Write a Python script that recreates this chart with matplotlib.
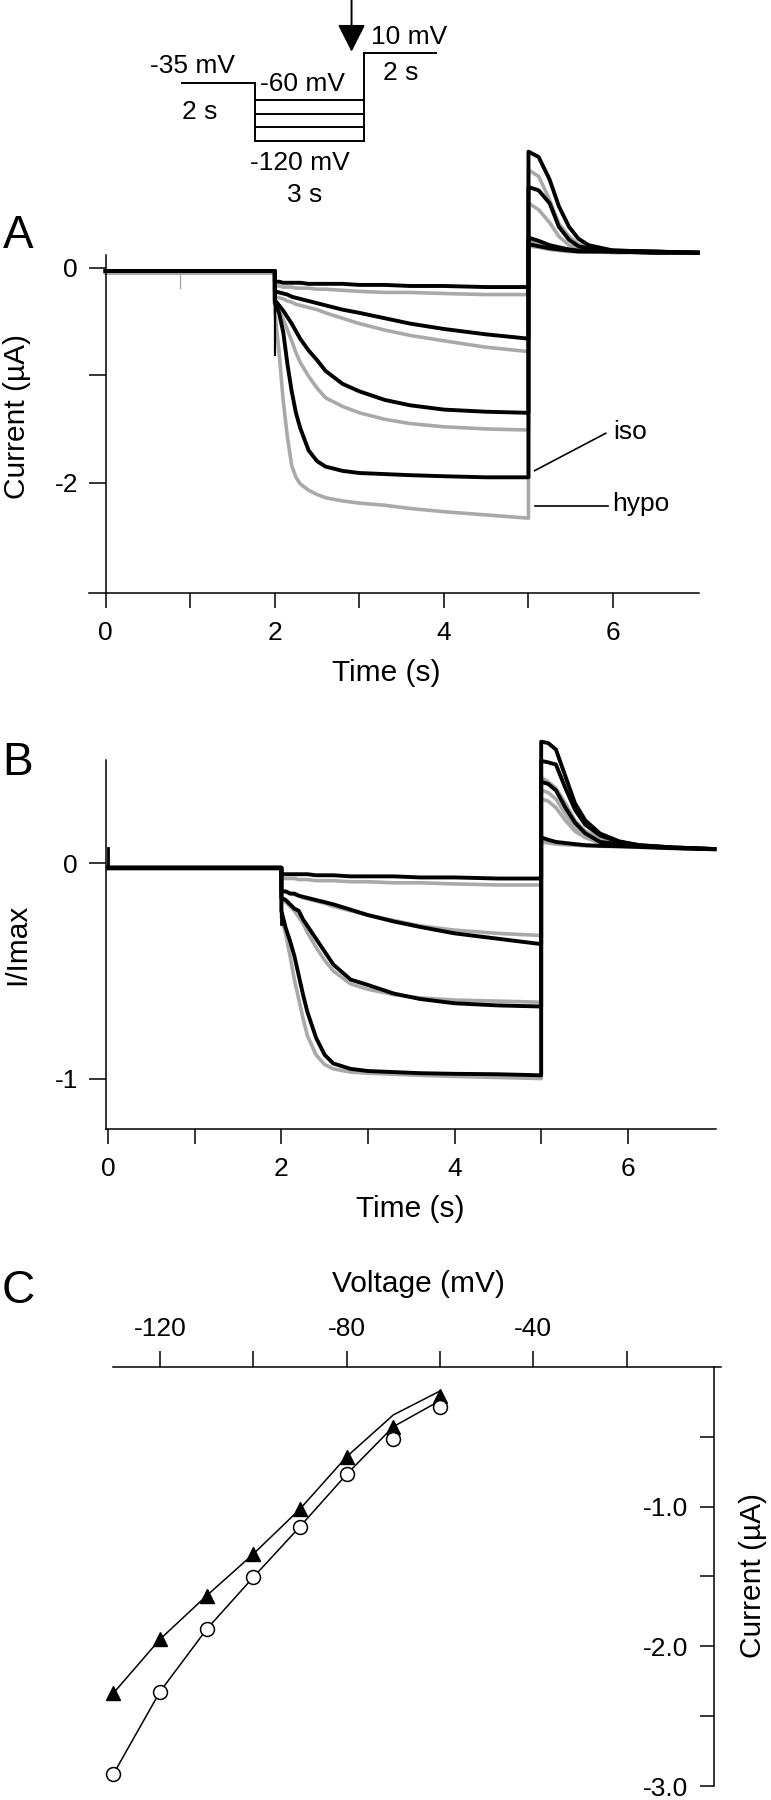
import matplotlib
matplotlib.use('Agg')
import matplotlib.pyplot as plt

plt.rcParams['font.family'] = ['Liberation Sans', 'DejaVu Sans']

W, H = 771, 1800
BLACK = '#000000'
GREY = '#a9a9a9'

# ── voltage protocol (inset) ─────────────────────────────────────
PROTO_T = [0, 2, 5, 7]          # s
HOLD_V = -35                    # mV
STEP_V = [-60, -80, -100, -120]
TAIL_V = 10
ARROW_T = 4.67

# ── panel A / B: current traces ──────────────────────────────────
T_HOLD = [0.0, 2.0]
T_STEP = [2.0, 2.05, 2.1, 2.15, 2.2, 2.25, 2.3, 2.4, 2.5, 2.6, 2.8, 3.0, 3.3, 3.6, 4.0, 4.5, 5.0]
T_TAIL_A = [5.0, 5.12, 5.25, 5.36, 5.48, 5.59, 5.71, 6.0, 6.5, 7.0]
T_TAIL_B = [5.0, 5.08, 5.17, 5.28, 5.39, 5.51, 5.68, 5.90, 6.13, 6.5, 7.0]

A_HOLD_ISO = -0.03
A_HOLD_HYPO = -0.05
A_ISO_STEP = [
    [-0.13, -0.13, -0.14, -0.14, -0.14, -0.14, -0.14, -0.15, -0.15, -0.15, -0.15, -0.16, -0.16, -0.17, -0.17, -0.18, -0.18],
    [-0.22, -0.23, -0.24, -0.25, -0.27, -0.28, -0.29, -0.31, -0.33, -0.35, -0.39, -0.42, -0.47, -0.52, -0.57, -0.62, -0.66],
    [-0.30, -0.35, -0.40, -0.46, -0.52, -0.59, -0.66, -0.77, -0.86, -0.96, -1.08, -1.15, -1.23, -1.28, -1.32, -1.34, -1.35],
    [-0.33, -0.42, -0.60, -0.90, -1.15, -1.35, -1.49, -1.70, -1.80, -1.85, -1.89, -1.91, -1.92, -1.93, -1.94, -1.95, -1.95],
]
A_HYPO_STEP = [
    [-0.17, -0.17, -0.18, -0.18, -0.18, -0.19, -0.19, -0.19, -0.20, -0.20, -0.21, -0.22, -0.23, -0.23, -0.24, -0.25, -0.25],
    [-0.27, -0.28, -0.29, -0.31, -0.32, -0.34, -0.35, -0.37, -0.39, -0.42, -0.47, -0.52, -0.58, -0.63, -0.68, -0.74, -0.78],
    [-0.32, -0.40, -0.48, -0.58, -0.68, -0.79, -0.88, -1.01, -1.12, -1.21, -1.29, -1.35, -1.41, -1.45, -1.48, -1.50, -1.51],
    [-0.40, -0.78, -1.24, -1.58, -1.84, -1.95, -2.01, -2.07, -2.11, -2.14, -2.17, -2.19, -2.21, -2.24, -2.27, -2.30, -2.33],
]
A_ISO_TAIL = [
    [0.22, 0.20, 0.18, 0.17, 0.16, 0.15, 0.15, 0.15, 0.14, 0.14],
    [0.28, 0.25, 0.21, 0.19, 0.17, 0.16, 0.16, 0.15, 0.14, 0.14],
    [0.75, 0.72, 0.60, 0.38, 0.26, 0.20, 0.18, 0.16, 0.15, 0.14],
    [1.08, 1.03, 0.82, 0.57, 0.38, 0.27, 0.21, 0.16, 0.15, 0.14],
]
A_HYPO_TAIL = [
    [0.20, 0.19, 0.17, 0.16, 0.15, 0.15, 0.15, 0.14, 0.14, 0.14],
    [0.25, 0.23, 0.20, 0.18, 0.17, 0.16, 0.15, 0.15, 0.14, 0.14],
    [0.60, 0.54, 0.42, 0.29, 0.21, 0.18, 0.17, 0.15, 0.15, 0.14],
    [0.91, 0.85, 0.63, 0.41, 0.29, 0.22, 0.19, 0.16, 0.15, 0.14],
]
A_CAP_I = [-0.03, -0.81]        # capacity transient at 2 s
A_BLIP_T = 0.88
A_BLIP_I = [-0.05, -0.19]

B_HOLD_ISO = -0.02
B_HOLD_HYPO = -0.025
B_ISO_STEP = [
    [-0.05, -0.05, -0.05, -0.05, -0.05, -0.05, -0.05, -0.055, -0.055, -0.055, -0.06, -0.06, -0.06, -0.065, -0.065, -0.07, -0.07],
    [-0.13, -0.13, -0.14, -0.14, -0.15, -0.155, -0.16, -0.17, -0.18, -0.19, -0.215, -0.24, -0.27, -0.295, -0.325, -0.35, -0.375],
    [-0.16, -0.17, -0.19, -0.21, -0.22, -0.26, -0.29, -0.35, -0.41, -0.47, -0.54, -0.565, -0.605, -0.63, -0.65, -0.66, -0.665],
    [-0.22, -0.30, -0.36, -0.43, -0.52, -0.61, -0.69, -0.81, -0.89, -0.93, -0.955, -0.965, -0.97, -0.975, -0.978, -0.98, -0.985],
]
B_HYPO_STEP = [
    [-0.07, -0.07, -0.07, -0.07, -0.075, -0.075, -0.075, -0.08, -0.08, -0.08, -0.085, -0.085, -0.09, -0.09, -0.095, -0.10, -0.10],
    [-0.13, -0.13, -0.14, -0.145, -0.15, -0.16, -0.165, -0.175, -0.185, -0.20, -0.22, -0.24, -0.265, -0.29, -0.31, -0.325, -0.335],
    [-0.17, -0.18, -0.20, -0.22, -0.25, -0.28, -0.32, -0.39, -0.45, -0.50, -0.56, -0.585, -0.61, -0.625, -0.635, -0.64, -0.645],
    [-0.25, -0.33, -0.43, -0.54, -0.63, -0.72, -0.80, -0.89, -0.935, -0.955, -0.97, -0.975, -0.98, -0.985, -0.99, -0.995, -1.0],
]
B_ISO_TAIL = [
    [0.121, 0.11, 0.10, 0.095, 0.09, 0.085, 0.082, 0.08, 0.077, 0.072, 0.067],
    [0.379, 0.37, 0.34, 0.26, 0.19, 0.14, 0.10, 0.09, 0.08, 0.072, 0.067],
    [0.477, 0.47, 0.46, 0.35, 0.25, 0.18, 0.13, 0.10, 0.085, 0.075, 0.067],
    [0.566, 0.56, 0.53, 0.405, 0.28, 0.20, 0.139, 0.103, 0.085, 0.075, 0.067],
]
B_HYPO_TAIL = [
    [0.10, 0.095, 0.09, 0.087, 0.085, 0.082, 0.08, 0.078, 0.075, 0.07, 0.065],
    [0.30, 0.29, 0.26, 0.20, 0.15, 0.12, 0.095, 0.085, 0.078, 0.07, 0.065],
    [0.34, 0.33, 0.30, 0.23, 0.17, 0.13, 0.10, 0.088, 0.08, 0.072, 0.065],
    [0.40, 0.38, 0.35, 0.28, 0.20, 0.15, 0.117, 0.095, 0.083, 0.073, 0.065],
]
B_CAP_I = [-0.02, -0.28]
B_START_I = [-0.02, 0.07]

# ── panel C: I-V ─────────────────────────────────────────────────
VOLT = [-130, -120, -110, -100, -90, -80, -70, -60]
I_TRI = [-2.336, -1.95, -1.638, -1.34, -1.018, -0.644, -0.429, -0.207]
I_TRI_LINE = [-2.336, -1.95, -1.638, -1.34, -1.018, -0.644, -0.345, -0.174]
I_CIRC = [-2.915, -2.325, -1.878, -1.506, -1.144, -0.770, -0.519, -0.286]
I_CIRC_LINE = [-2.915, -2.325, -1.878, -1.506, -1.144, -0.770, -0.429, -0.243]


def trace(hold, step, tail, t_tail):
    return T_HOLD + T_STEP + t_tail, [hold, hold] + step + tail


def px_axes(x0, x1, y0, y1, **kw):
    # rectangle given in pixels of the 771x1800 canvas (y from top)
    return fig.add_axes([x0 / W, 1 - y1 / H, (x1 - x0) / W, (y1 - y0) / H], **kw)


def ftext(x, y, s, **kw):
    fig.text(x / W, 1 - y / H, s, ha='center', va='center', **kw)


fig = plt.figure(figsize=(7.71, 18.0), dpi=100)

# ── (A) raw currents ─────────────────────────────────────────────
axA = px_axes(88.74, 699.3, 144.1, 593.4)
axA.patch.set_visible(False)
for k in range(4):
    t, v = trace(A_HOLD_HYPO, A_HYPO_STEP[k], A_HYPO_TAIL[k], T_TAIL_A)
    axA.plot(t, v, color=GREY, lw=2.6, clip_on=False)
axA.plot([A_BLIP_T, A_BLIP_T], A_BLIP_I, color=GREY, lw=1.0)
for k in range(4):
    t, v = trace(A_HOLD_ISO, A_ISO_STEP[k], A_ISO_TAIL[k], T_TAIL_A)
    axA.plot(t, v, color=BLACK, lw=2.8, clip_on=False)
axA.plot([2.0, 2.0], A_CAP_I, color=BLACK, lw=1.6)

axA.set_xlim(-0.2, 7.02)
axA.set_ylim(-3.03, 1.15)
axA.spines['left'].set_position(('data', 0))
axA.spines['left'].set_bounds(-3.03, 0.12)
axA.spines[['top', 'right']].set_visible(False)
axA.set_xticks(range(7))
axA.set_xticklabels(['0', '', '2', '', '4', '', '6'])
axA.set_yticks([0, -1, -2])
axA.set_yticklabels(['0', '', '-2'])

# iso / hypo labels
axA.plot([5.073, 5.914], [-1.888, -1.540], color=BLACK, lw=1.2)
axA.plot([5.073, 5.942], [-2.214, -2.214], color=BLACK, lw=1.2)
axA.text(6.0, -1.53, 'iso', fontsize=19, va='center', ha='left')
axA.text(5.99, -2.20, 'hypo', fontsize=19, va='center', ha='left')

# ── protocol inset (drawn above panel A) ─────────────────────────
axp = px_axes(182.3, 436.0, 52.7, 141.0, zorder=5)
axp.set_xlim(PROTO_T[0], PROTO_T[-1])
axp.set_ylim(min(STEP_V), TAIL_V)
axp.axis('off')
plw = 1.4
axp.plot(PROTO_T[0:2], [HOLD_V, HOLD_V], color=BLACK, lw=plw, clip_on=False)
axp.plot([PROTO_T[1], PROTO_T[1]], [HOLD_V, min(STEP_V)], color=BLACK, lw=plw, clip_on=False)
for v in STEP_V:
    axp.plot(PROTO_T[1:3], [v, v], color=BLACK, lw=plw, clip_on=False)
axp.plot([PROTO_T[2], PROTO_T[2]], [min(STEP_V), TAIL_V], color=BLACK, lw=plw, clip_on=False)
axp.plot(PROTO_T[2:4], [TAIL_V, TAIL_V], color=BLACK, lw=plw, clip_on=False)
axp.annotate('', xy=(ARROW_T, 11.5), xytext=(ARROW_T, 87.6), annotation_clip=False,
             arrowprops=dict(arrowstyle='-|>,head_length=0.85,head_width=0.43',
                             mutation_scale=20, color=BLACK, lw=1.4,
                             shrinkA=0, shrinkB=0))
pfs = 19
for s, t, v in [('-35 mV', 0.28, -9.6), ('2 s', 0.48, -76.9), ('-60 mV', 3.32, -36.1),
                ('-120 mV', 3.24, -151.7), ('3 s', 3.38, -198.8),
                ('10 mV', 6.26, 32.4), ('2 s', 6.02, -19.2)]:
    axp.text(t, v, s, ha='center', va='center', fontsize=pfs, clip_on=False)

# ── (B) normalised currents ──────────────────────────────────────
axB = px_axes(105.6, 716.1, 734.4, 1129.1)
axB.patch.set_visible(False)
for k in range(4):
    t, v = trace(B_HOLD_HYPO, B_HYPO_STEP[k], B_HYPO_TAIL[k], T_TAIL_B)
    axB.plot(t, v, color=GREY, lw=2.6, clip_on=False)
for k in range(4):
    t, v = trace(B_HOLD_ISO, B_ISO_STEP[k], B_ISO_TAIL[k], T_TAIL_B)
    axB.plot(t, v, color=BLACK, lw=2.8, clip_on=False)
axB.plot([2.0, 2.0], B_CAP_I, color=BLACK, lw=2.0)
axB.plot([0.0, 0.0], B_START_I, color=BLACK, lw=2.0)

axB.set_xlim(-0.03, 7.02)
axB.set_ylim(-1.235, 0.6)
axB.spines['left'].set_bounds(-1.235, 0.48)
axB.spines[['top', 'right']].set_visible(False)
axB.set_xticks(range(7))
axB.set_xticklabels(['0', '', '2', '', '4', '', '6'])
axB.set_yticks([0, -1])
axB.set_yticklabels(['0', '-1'])

for ax in (axA, axB):
    ax.spines[['left', 'bottom']].set_linewidth(1.1)
    ax.tick_params(axis='both', direction='out', width=1.1, labelsize=19)
    ax.tick_params(axis='x', length=10.5, pad=9.5)
    ax.tick_params(axis='y', length=12, pad=8)

# ── (C) I-V relation ─────────────────────────────────────────────
axC = px_axes(113.3, 721.4, 1366.7, 1786.1)
axC.plot(VOLT, I_TRI_LINE, color=BLACK, lw=1.1, clip_on=False)
axC.plot(VOLT, I_CIRC_LINE, color=BLACK, lw=1.1, clip_on=False)
axC.plot(VOLT, I_TRI, ls='none', marker='^', ms=9.5, color=BLACK, clip_on=False)
axC.plot(VOLT, I_CIRC, ls='none', marker='o', ms=10, mfc='white', mec=BLACK,
         mew=1.1, clip_on=False)
axC.set_xlim(-130, 0.3)
axC.set_ylim(-3.0, 0)
axC.spines[['bottom', 'right']].set_visible(False)
axC.spines['left'].set_position(('data', -1.2))
axC.spines['left'].set_bounds(-3.0, 0)
axC.spines[['left', 'top']].set_linewidth(1.1)
axC.xaxis.tick_top()
axC.set_xticks([-120, -100, -80, -60, -40, -20])
axC.set_xticklabels(['-120', '', '-80', '', '-40', ''])
axC.set_yticks([-0.5, -1.0, -1.5, -2.0, -2.5, -3.0])
axC.set_yticklabels(['', '-1.0', '', '-2.0', '', '-3.0'])
axC.tick_params(axis='both', direction='out', width=1.1, labelsize=19)
axC.tick_params(axis='x', length=11.5, pad=7)
axC.tick_params(axis='y', length=10, pad=9)

# ── axis labels and panel letters ────────────────────────────────
lfs = 21.5
ftext(17, 416.7, 'Current (µA)', rotation=90, fontsize=lfs)
ftext(386, 673, 'Time (s)', fontsize=lfs)
ftext(17, 944.5, 'I/Imax', rotation=90, fontsize=lfs)
ftext(410.5, 1208.7, 'Time (s)', fontsize=lfs)
ftext(418, 1284, 'Voltage (mV)', fontsize=lfs)
ftext(753, 1575, 'Current (µA)', rotation=90, fontsize=lfs)
for letter, y in [('A', 236), ('B', 763), ('C', 1291)]:
    ftext(18, y, letter, fontsize=33)

fig.savefig('out.png', dpi=100)
